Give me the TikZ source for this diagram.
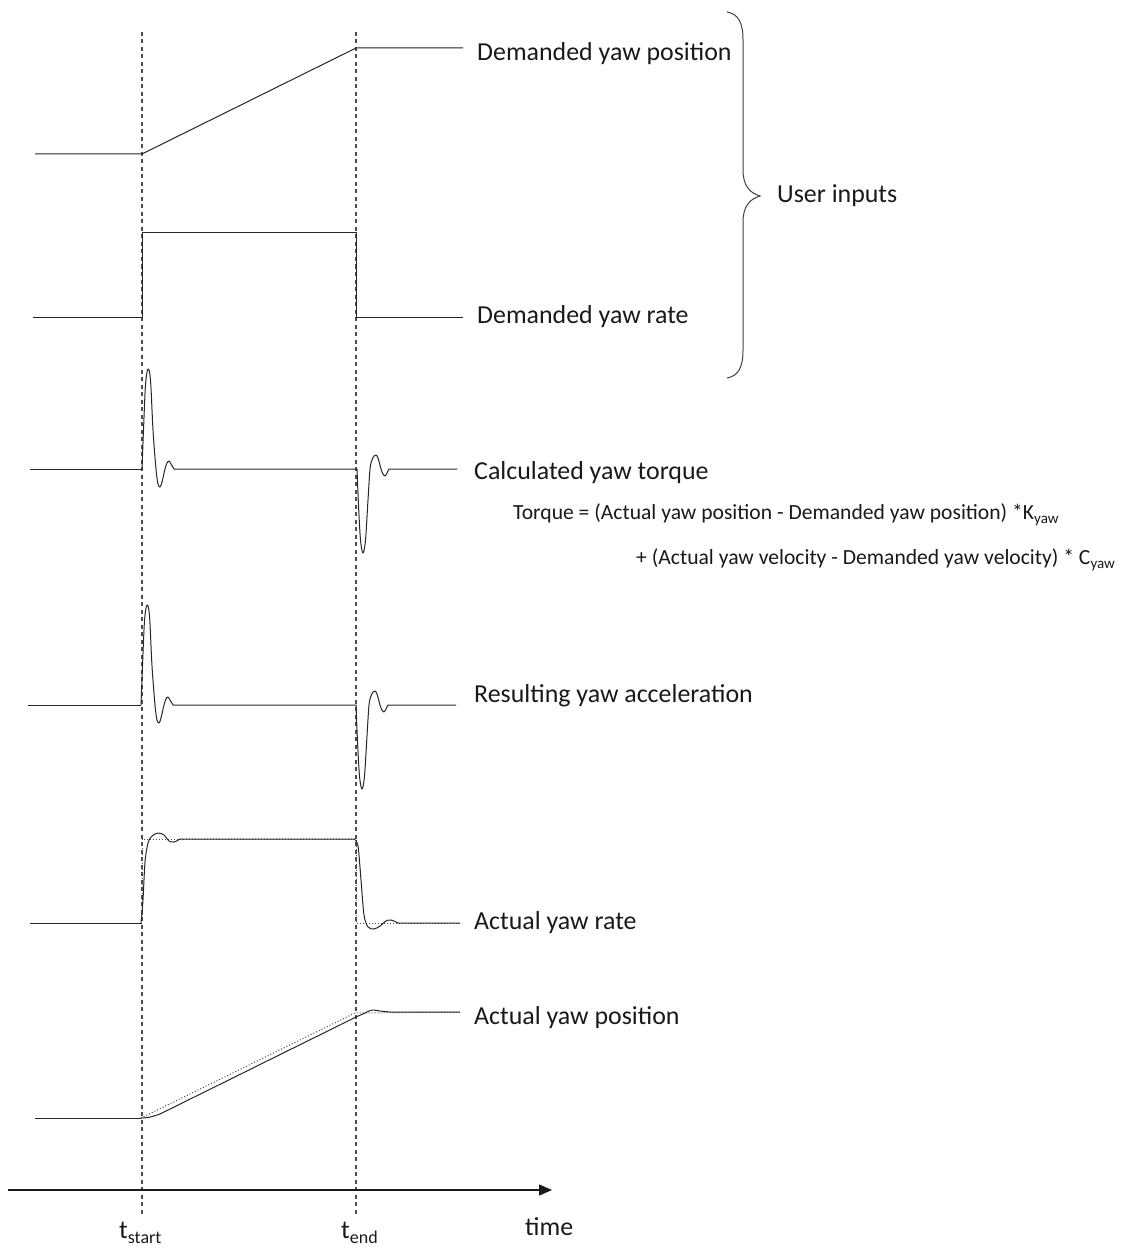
\documentclass[tikz,border=0pt]{standalone}
\usepackage{fontspec}
\setmainfont{Carlito}
\usetikzlibrary{arrows.meta}
\newcommand{\lowsub}[2]{\raisebox{-0.2em}{\fontsize{#1}{#1}\selectfont #2}}
\begin{document}
\begin{tikzpicture}[x=1pt,y=-1pt,
  sig/.style={line width=1pt, black!85, line join=round},
  refline/.style={line width=1pt, black!70, dotted},
  tline/.style={line width=1.1pt, black!70, dash pattern=on 4pt off 3.5pt},
  lbl/.style={anchor=west, inner sep=0pt, font=\fontsize{25.9}{30}\selectfont, text=black!90},
  frm/.style={anchor=west, inner sep=0pt, font=\fontsize{21.6}{25}\selectfont, text=black!90}]
\useasboundingbox (0,0) rectangle (1120,1249);

% time marker lines
\coordinate (tsT) at (142,32); \coordinate (tsB) at (142,1216);
\coordinate (teT) at (356,32); \coordinate (teB) at (356,1216);
\draw[tline] (tsT) -- (tsB);
\draw[tline] (teT) -- (teB);

% 1 demanded yaw position
\draw[sig] (35,154) -- (142,154) -- (356,48) -- (463,48);
\node[lbl] (dyp) at (477,54) {Demanded yaw position};

% 2 demanded yaw rate
\draw[sig] (33,317) -- (142,317) -- (142,233) -- (356,233) -- (356,317) -- (463,317);
\node[lbl] (dyr) at (477,317) {Demanded yaw rate};

% 3 calculated yaw torque
\draw[sig] (30,469) -- (142,469);
\draw[sig] plot[smooth,tension=0.55] coordinates {(142,469) (143.5,430) (145.5,385) (148,369) (150.5,380) (153,430) (156,469) (158,484) (160,487) (162,482) (165,469) (167,463) (169,461) (171,464) (174,469)} -- (357,469);
\draw[sig] plot[smooth,tension=0.55] coordinates {(357,469) (358.5,505) (360.5,540) (363,553) (365.5,540) (368,500) (370,469) (372,460) (374,456) (376,455) (378,458) (381,469) (383,474) (385,476) (387,473) (389,469)} -- (457,469);
\node[lbl] (cyt) at (474,473) {Calculated yaw torque};
\node[frm] (f1) at (513,515) {Torque = (Actual yaw position - Demanded yaw position) *K\lowsub{15}{yaw}};
\node[frm] (f2) at (636,560) {+ (Actual yaw velocity - Demanded yaw velocity) * C\lowsub{15}{yaw}};

% 4 resulting yaw acceleration
\begin{scope}[shift={(-1,236)}]
\draw[sig] (29,469) -- (142,469);
\draw[sig] plot[smooth,tension=0.55] coordinates {(142,469) (143.5,430) (145.5,385) (148,369) (150.5,380) (153,430) (156,469) (158,484) (160,487) (162,482) (165,469) (167,463) (169,461) (171,464) (174,469)} -- (357,469);
\draw[sig] plot[smooth,tension=0.55] coordinates {(357,469) (358.5,505) (360.5,540) (363,553) (365.5,540) (368,500) (370,469) (372,460) (374,456) (376,455) (378,458) (381,469) (383,474) (385,476) (387,473) (389,469)} -- (457,469);
\end{scope}
\node[lbl] (rya) at (474,696) {Resulting yaw acceleration};

% 5 actual yaw rate
\draw[refline] (30,923) -- (142,923) -- (142,839) -- (356,839) -- (356,923) -- (462,923);
\draw[sig] (30,923) -- (141,923);
\draw[sig] plot[smooth,tension=0.5] coordinates {(141,923) (143,900) (145,862) (148,843) (152,836) (158,833) (164,835) (169,841) (174,842) (180,839)} -- (354,839);
\draw[sig] plot[smooth,tension=0.5] coordinates {(354,839) (358,846) (361,880) (364,915) (368,927) (374,929) (380,926) (386,921) (391,920) (398,923)} -- (460,923);
\node[lbl] (ayr) at (474,923) {Actual yaw rate};

% 6 actual yaw position
\draw[refline] (141,1118) -- (355,1013) -- (460,1012);
\draw[sig] (35,1118) -- (141,1118);
\draw[sig] plot[smooth,tension=0.5] coordinates {(141,1118) (148,1117.5) (154,1116) (160,1114)} -- (356,1017);
\draw[sig] plot[smooth,tension=0.5] coordinates {(356,1017) (365,1013) (372,1010) (380,1011) (390,1012)} -- (460,1012);
\node[lbl] (ayp) at (474,1018) {Actual yaw position};

% brace
\draw[line width=1pt, black!75] (727,12) .. controls (738,14) and (743,22) .. (743,40) -- (743,170) .. controls (743,186) and (750,193) .. (760,196) .. controls (750,199) and (743,206) .. (743,222) -- (743,350) .. controls (743,368) and (738,376) .. (727,378);
\node[lbl] (ui) at (777,196) {User inputs};

% time axis
\coordinate (ax0) at (8,1190);
\coordinate (ax1) at (552,1190);
\draw[line width=1.3pt, black!90, -{Triangle[length=13pt,width=11pt]}] (ax0) -- (ax1);
\node[lbl] (tst) at (119,1233) {t\lowsub{18}{start}};
\node[lbl] (ten) at (341,1233) {t\lowsub{18}{end}};
\node[lbl] (time) at (525,1227) {time};
\end{tikzpicture}
\end{document}
